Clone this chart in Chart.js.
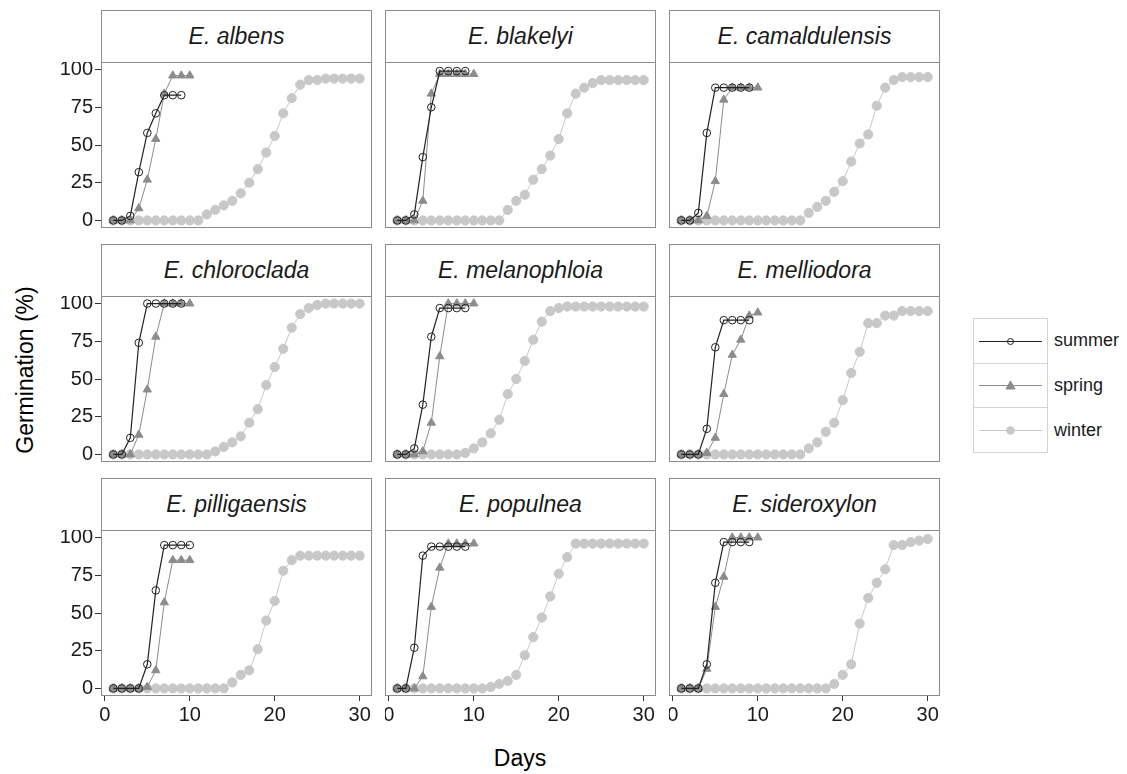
<!DOCTYPE html>
<html lang="en">
<head>
<meta charset="UTF-8">
<title>Germination by season</title>
<script src="https://cdn.jsdelivr.net/npm/chart.js"></script>
<style>
  body { margin: 0; background: #fff; font-family: "Liberation Sans", Arial, sans-serif; }
  .janela { position: relative; width: 1127px; height: 774px; overflow: hidden; }
  .painel { position: absolute; }
  .painel canvas { display: block; }
  .strip {
    position: absolute; box-sizing: border-box; border: 1px solid #8c8c8c; background: #fff;
    font-style: italic; font-size: 23px; color: #1a1a1a;
    display: flex; align-items: center; justify-content: center;
  }
  .ytitle {
    position: absolute; left: 25px; top: 370px; font-size: 23px; color: #000;
    transform: translate(-50%, -50%) rotate(-90deg); white-space: nowrap;
  }
  .xtitle {
    position: absolute; left: 520px; top: 758px; font-size: 23px; color: #000;
    transform: translate(-50%, -50%); white-space: nowrap;
  }
  .legenda { position: absolute; left: 973px; top: 318px; }
  .chave { display: flex; align-items: center; height: 45px; }
  .chave svg { display: block; }
  .chave span { font-size: 18px; color: #1a1a1a; margin-left: 6px; }
</style>
</head>
<body>
<div class="janela" id="janela">
  <div class="ytitle">Germination (%)</div>
  <div class="xtitle">Days</div>
  <div class="legenda" id="legenda"></div>
</div>

<script>
var days = [1, 2, 3, 4, 5, 6, 7, 8, 9, 10, 11, 12, 13, 14, 15, 16, 17, 18, 19, 20, 21, 22, 23, 24, 25, 26, 27, 28, 29, 30];
var species = ['E. albens', 'E. blakelyi', 'E. camaldulensis',
               'E. chloroclada', 'E. melanophloia', 'E. melliodora',
               'E. pilligaensis', 'E. populnea', 'E. sideroxylon'];
var seasons = ['summer', 'spring', 'winter'];
var xTicks = [0, 10, 20, 30];
var yTicks = [0, 25, 50, 75, 100];

// germination (%) per day, one row per species
var summer = [
  [0, 0, 3, 32, 58, 71, 83, 83, 83],
  [0, 0, 4, 42, 75, 99, 99, 99, 99],
  [0, 0, 5, 58, 88, 88, 88, 88, 88],
  [0, 0, 11, 74, 100, 100, 100, 100, 100],
  [0, 0, 4, 33, 78, 97, 97, 97, 97],
  [0, 0, 0, 17, 71, 89, 89, 89, 89],
  [0, 0, 0, 0, 16, 65, 95, 95, 95, 95],
  [0, 0, 27, 88, 94, 94, 94, 94, 94],
  [0, 0, 0, 16, 70, 97, 97, 97, 97]
];
var spring = [
  [0, 0, 0, 8, 27, 54, 84, 96, 96, 96],
  [0, 0, 0, 13, 84, 97, 97, 97, 97, 97],
  [0, 0, 0, 3, 26, 80, 88, 88, 88, 88],
  [0, 0, 0, 13, 43, 78, 100, 100, 100, 100],
  [0, 0, 0, 2, 21, 65, 100, 100, 100, 100],
  [0, 0, 0, 1, 11, 40, 66, 76, 92, 94],
  [0, 0, 0, 0, 1, 12, 57, 85, 85, 85],
  [0, 0, 0, 8, 54, 80, 96, 96, 96, 96],
  [0, 0, 0, 13, 54, 74, 100, 100, 100, 100]
];
var winter = [
  [0, 0, 0, 0, 0, 0, 0, 0, 0, 0, 0, 4, 7, 10, 13, 18, 25, 34, 45, 56, 71, 81, 90, 93, 93, 94, 94, 94, 94, 94],
  [0, 0, 0, 0, 0, 0, 0, 0, 0, 0, 0, 0, 0, 7, 13, 17, 27, 34, 43, 54, 71, 84, 88, 91, 93, 93, 93, 93, 93, 93],
  [0, 0, 0, 0, 0, 0, 0, 0, 0, 0, 0, 0, 0, 0, 0, 5, 9, 13, 19, 26, 39, 51, 57, 76, 88, 93, 95, 95, 95, 95],
  [0, 0, 0, 0, 0, 0, 0, 0, 0, 0, 0, 0, 2, 5, 8, 12, 21, 30, 46, 58, 70, 84, 93, 97, 99, 100, 100, 100, 100, 100],
  [0, 0, 0, 0, 0, 0, 0, 0, 1, 4, 8, 14, 23, 40, 50, 62, 76, 88, 95, 97, 98, 98, 98, 98, 98, 98, 98, 98, 98, 98],
  [0, 0, 0, 0, 0, 0, 0, 0, 0, 0, 0, 0, 0, 0, 0, 4, 8, 15, 21, 36, 54, 68, 87, 87, 92, 92, 95, 95, 95, 95],
  [0, 0, 0, 0, 0, 0, 0, 0, 0, 0, 0, 0, 0, 0, 4, 9, 12, 26, 45, 58, 78, 85, 88, 88, 88, 88, 88, 88, 88, 88],
  [0, 0, 0, 0, 0, 0, 0, 0, 0, 0, 0, 1, 3, 5, 9, 22, 34, 47, 61, 76, 87, 96, 96, 96, 96, 96, 96, 96, 96, 96],
  [0, 0, 0, 0, 0, 0, 0, 0, 0, 0, 0, 0, 0, 0, 0, 0, 0, 0, 3, 9, 16, 43, 60, 70, 79, 95, 95, 97, 98, 99]
];

// panel geometry
var colLeft = [101, 385, 669];
var colWidth = [271, 271, 271];
var rowTop = [62, 296, 530];
var panelH = 166;
var stripH = 52;
var yAxisW = 61;
var xAxisH = 32;

var estilo = {
  summer: { cor: '#222222', forma: 'circle', raio: 3.8, fundo: 'rgba(0,0,0,0)', linha: 1.2 },
  spring: { cor: '#8c8c8c', forma: 'triangle', raio: 4.8, fundo: '#8c8c8c', linha: 1 },
  winter: { cor: '#c8c8c8', forma: 'circle', raio: 4.6, fundo: '#c8c8c8', linha: 1 }
};

var bordaPainel = {
  id: 'bordaPainel',
  afterDraw: function (chart) {
    var a = chart.chartArea, ctx = chart.ctx;
    ctx.save();
    ctx.strokeStyle = '#8c8c8c';
    ctx.lineWidth = 1;
    ctx.strokeRect(Math.round(a.left) + 0.5, Math.round(a.top) + 0.5,
      Math.round(a.right - a.left) - 1, Math.round(a.bottom - a.top) - 1);
    ctx.restore();
  }
};

function serie(nome, valores) {
  var e = estilo[nome];
  return {
    label: nome,
    data: valores.map(function (v, k) { return { x: days[k], y: v }; }),
    showLine: true,
    borderColor: e.cor,
    borderWidth: e.linha,
    pointStyle: e.forma,
    pointRadius: e.raio,
    pointBorderColor: e.cor,
    pointBackgroundColor: e.fundo,
    pointBorderWidth: 1,
    pointHoverRadius: e.raio
  };
}

// no extra padding from tick labels, the panels must line up
function semPadding(s) {
  s.paddingTop = 0;
  s.paddingBottom = 0;
  s.paddingLeft = 0;
  s.paddingRight = 0;
}

var janela = document.getElementById('janela');

species.forEach(function (nome, i) {
  var col = i % 3, row = Math.floor(i / 3);
  var temY = col === 0, temX = row === 2;
  var w = colWidth[col] + (temY ? yAxisW : 0);
  var h = panelH + (temX ? xAxisH : 0);

  var strip = document.createElement('div');
  strip.className = 'strip';
  strip.textContent = nome;
  strip.style.left = colLeft[col] + 'px';
  strip.style.top = (rowTop[row] - stripH) + 'px';
  strip.style.width = colWidth[col] + 'px';
  strip.style.height = (stripH + 1) + 'px';
  janela.appendChild(strip);

  var box = document.createElement('div');
  box.className = 'painel';
  box.style.left = (colLeft[col] - (temY ? yAxisW : 0)) + 'px';
  box.style.top = rowTop[row] + 'px';
  var canvas = document.createElement('canvas');
  canvas.width = w;
  canvas.height = h;
  canvas.style.width = w + 'px';
  canvas.style.height = h + 'px';
  box.appendChild(canvas);
  janela.appendChild(box);

  new Chart(canvas.getContext('2d'), {
    type: 'scatter',
    data: {
      datasets: [serie('summer', summer[i]), serie('spring', spring[i]), serie('winter', winter[i])]
    },
    options: {
      responsive: false,
      animation: false,
      devicePixelRatio: 1,
      layout: { padding: 0, autoPadding: false },
      plugins: { legend: { display: false }, tooltip: { enabled: false } },
      scales: {
        x: {
          type: 'linear', min: -0.45, max: 31.45, display: temX,
          afterBuildTicks: function (s) { s.ticks = xTicks.map(function (v) { return { value: v }; }); },
          afterFit: function (s) { if (temX) s.height = xAxisH; semPadding(s); },
          grid: { drawOnChartArea: false, drawTicks: true, tickLength: 5, tickColor: '#333' },
          border: { display: false },
          ticks: { color: '#1a1a1a', font: { size: 20, family: 'Liberation Sans' }, padding: 2, maxRotation: 0 }
        },
        y: {
          type: 'linear', min: -5, max: 105, display: temY,
          afterBuildTicks: function (s) { s.ticks = yTicks.map(function (v) { return { value: v }; }); },
          afterFit: function (s) { if (temY) s.width = yAxisW; semPadding(s); },
          grid: { drawOnChartArea: false, drawTicks: true, tickLength: 6, tickColor: '#333' },
          border: { display: false },
          ticks: { color: '#1a1a1a', font: { size: 20, family: 'Liberation Sans' }, padding: 2 }
        }
      }
    },
    plugins: [bordaPainel]
  });
});

// legend
var legenda = document.getElementById('legenda');
seasons.forEach(function (nome, k) {
  var e = estilo[nome];
  var marca = e.forma === 'triangle'
    ? '<polygon points="36.5,18 41,26 32,26" fill="' + e.fundo + '" stroke="' + e.cor + '"/>'
    : '<circle cx="36.5" cy="22.5" r="' + (e.raio - 0.8) + '" fill="' + e.fundo + '" stroke="' + e.cor + '"/>';
  var borda = k === 0 ? 'border:1px solid #d4d4d4;' : 'border:1px solid #d4d4d4;border-top:none;';
  legenda.innerHTML +=
    '<div class="chave"><div style="' + borda + 'width:73px;height:44px;box-sizing:content-box">' +
    '<svg width="73" height="44"><line x1="5" y1="22.5" x2="68" y2="22.5" stroke="' + e.cor + '" stroke-width="' + e.linha + '"/>' +
    marca + '</svg></div><span>' + nome + '</span></div>';
});
</script>
</body>
</html>
